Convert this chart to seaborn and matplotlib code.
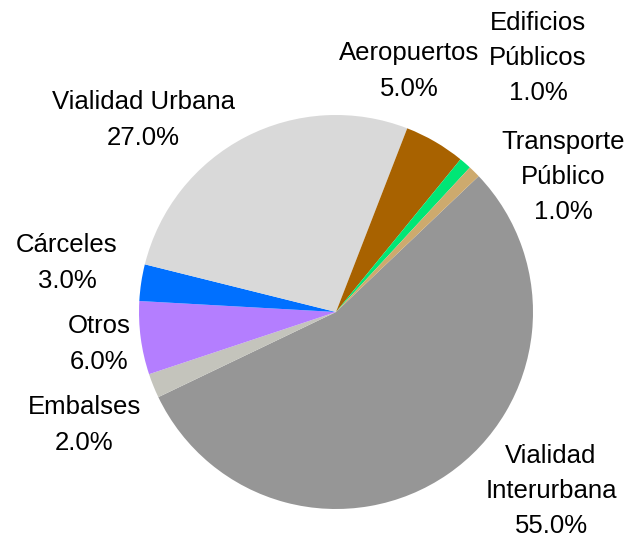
import matplotlib
matplotlib.use("Agg")
import matplotlib.pyplot as plt
import seaborn as sns

# data, clockwise starting from the big slice
sectores = ["Vialidad\nInterurbana", "Embalses", "Otros", "Cárceles",
            "Vialidad Urbana", "Aeropuertos", "Edificios\nPúblicos",
            "Transporte\nPúblico"]
porcentajes = [55.0, 2.0, 6.0, 3.0, 27.0, 5.0, 1.0, 1.0]
colores = ["#969696", "#C4C4BC", "#B47EFF", "#0070FF",
           "#D9D9D9", "#A86200", "#00E676", "#CDAA6E"]

# label centers in pixel coords of the 635x539 picture (layout only)
label_px = [(551, 491), (84, 425), (99, 344), (67, 263),
            (143, 120), (409, 71), (538, 58), (563, 177)]

sns.set_theme(style="white")
plt.rcParams["font.family"] = ["Liberation Sans", "DejaVu Sans"]

W, H = 635, 539
cx, cy, R = 336, 312, 197

fig = plt.figure(figsize=(W / 100, H / 100), dpi=100)
ax = fig.add_axes([0, 0, 1, 1])

ax.pie(porcentajes, colors=colores, startangle=43.6, counterclock=False,
       radius=1.0, wedgeprops=dict(linewidth=0))

for name, val, (px, py) in zip(sectores, porcentajes, label_px):
    ax.text((px - cx) / R, (cy - py) / R, f"{name}\n{val:.1f}%",
            ha="center", va="center", fontsize=18.5, linespacing=1.6,
            color="black")

ax.set_xlim(-cx / R, (W - cx) / R)
ax.set_ylim(-(H - cy) / R, cy / R)
ax.set_aspect("equal", adjustable="box")
ax.axis("off")

fig.savefig("out.png", dpi=100)
